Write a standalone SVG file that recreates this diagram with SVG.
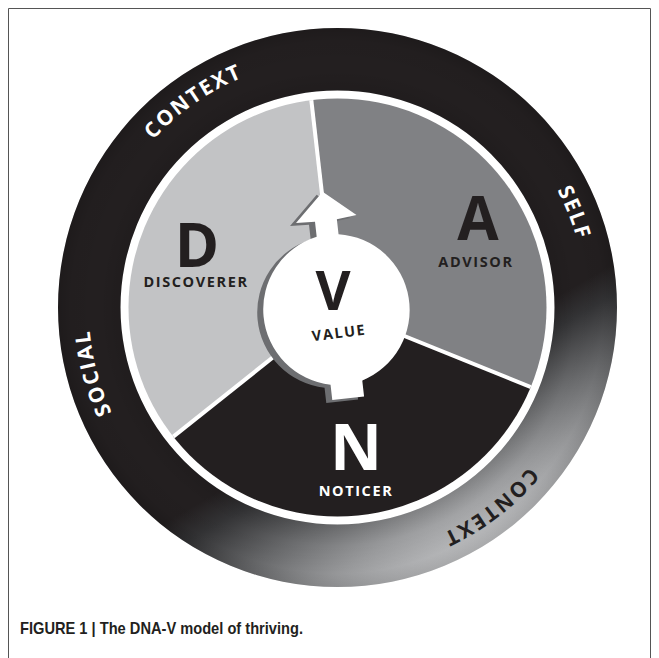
<svg xmlns="http://www.w3.org/2000/svg" width="659" height="658" viewBox="0 0 659 658">
  <defs>
    <style>
      .ringtxt { font-family: "Open Sans", "Liberation Sans", sans-serif; font-weight: 700; font-size: 21px; letter-spacing: 2px; }
      .big { font-family: "Open Sans", "Liberation Sans", sans-serif; font-weight: 700; text-anchor: middle; }
      .lbl { font-family: "Open Sans", "Liberation Sans", sans-serif; font-weight: 700; font-size: 14.5px; letter-spacing: 1.6px; text-anchor: middle; }
      .dark { fill: #231f20; }
      .white { fill: #ffffff; }
    </style>
    <linearGradient id="ringGrad" gradientUnits="userSpaceOnUse" x1="387.5" y1="394.1" x2="477.5" y2="550">
      <stop offset="0" stop-color="#231f20"/>
      <stop offset="0.15" stop-color="#333335"/>
      <stop offset="0.45" stop-color="#6a6b6d"/>
      <stop offset="0.72" stop-color="#9a9b9d"/>
      <stop offset="1" stop-color="#c6c7c9"/>
    </linearGradient>
    <radialGradient id="ringShade" gradientUnits="userSpaceOnUse" cx="337.5" cy="307.5" r="280">
      <stop offset="0.775" stop-color="#000" stop-opacity="0.08"/>
      <stop offset="0.85" stop-color="#000" stop-opacity="0"/>
      <stop offset="0.95" stop-color="#000" stop-opacity="0.03"/>
      <stop offset="1" stop-color="#000" stop-opacity="0.15"/>
    </radialGradient>
    <clipPath id="diskClip">
      <circle cx="337.5" cy="307.5" r="209"/>
    </clipPath>
    <path id="ringPath" d="M586.5,307.5 A249,249 0 1 1 88.5,307.5 A249,249 0 1 1 586.5,307.5"/>
    <path id="ringShape" d="M617,307.5 A279.5,279.5 0 1 1 58,307.5 A279.5,279.5 0 1 1 617,307.5 Z M554.5,307.5 A217,217 0 1 0 120.5,307.5 A217,217 0 1 0 554.5,307.5 Z"/>
    <path id="valueShape" d="M-11,-74 L-11,-89 L-30,-90 L0,-118 L31,-91 L11,-89 L11,-74 A76,76 0 0 1 18,74 L18,90 L-14,90 L-14,74.7 A76,76 0 0 1 -11,-74 Z"/>
  </defs>

  <rect x="0" y="0" width="659" height="658" fill="#ffffff"/>
  <path d="M8.5,658 V8.5 H650.5 V658" fill="none" stroke="#555" stroke-width="1"/>

  <g id="context-ring">
    <use href="#ringShape" fill="url(#ringGrad)" fill-rule="evenodd"/>
    <use href="#ringShape" fill="url(#ringShade)" fill-rule="evenodd"/>
    <text class="ringtxt white"><textPath href="#ringPath" startOffset="1021.3" text-anchor="middle">CONTEXT</textPath></text>
    <text class="ringtxt white"><textPath href="#ringPath" startOffset="1469.4" text-anchor="middle">SELF</textPath></text>
    <text class="ringtxt white"><textPath href="#ringPath" startOffset="717.1" text-anchor="middle">SOCIAL</textPath></text>
    <text class="ringtxt dark"><textPath href="#ringPath" startOffset="228.2" text-anchor="middle">CONTEXT</textPath></text>
  </g>

  <g clip-path="url(#diskClip)">
    <g id="segment-D">
      <path d="M335,308 L131.52,469.85 A260,260 0 0 1 305.57,49.67 Z" fill="#c2c3c5"/>
    </g>
    <g id="segment-A">
      <path d="M335,308 L305.57,49.67 A260,260 0 0 1 576.07,405.40 Z" fill="#808184"/>
    </g>
    <g id="segment-N">
      <path d="M335,308 L576.07,405.40 A260,260 0 0 1 131.52,469.85 Z" fill="#231f20"/>
    </g>
    <g id="connectors" stroke="#ffffff" stroke-width="4" fill="none">
      <line x1="335" y1="308" x2="305.57" y2="49.67"/>
      <line x1="335" y1="308" x2="576.07" y2="405.40"/>
      <line x1="335" y1="308" x2="131.52" y2="469.85"/>
    </g>
  </g>

  <g id="labels-D">
    <text class="big dark" x="197" y="267" font-size="60">D</text>
    <text class="lbl dark" x="196" y="287">DISCOVERER</text>
  </g>
  <g id="labels-A">
    <text class="big dark" x="478" y="240" font-size="60">A</text>
    <text class="lbl dark" x="476" y="267">ADVISOR</text>
  </g>
  <g id="labels-N">
    <text class="big white" x="356" y="470" font-size="64">N</text>
    <text class="lbl white" x="356" y="496">NOTICER</text>
  </g>

  <g id="value">
    <use href="#valueShape" transform="translate(330,312) rotate(-6.5)" fill="#6d6e71"/>
    <use href="#valueShape" transform="translate(336,309) rotate(-6.5)" fill="#ffffff"/>
    <text class="big dark" x="333" y="310" font-size="54">V</text>
    <text class="lbl dark" x="339" y="338" font-size="14" letter-spacing="1.8" transform="rotate(-7 339 333)">VALUE</text>
  </g>

  <g id="caption">
    <text x="20" y="634" font-family="'Liberation Sans', Arial, sans-serif" font-weight="700" font-size="17" fill="#231f20" textLength="283" lengthAdjust="spacingAndGlyphs">FIGURE 1 | The DNA-V model of thriving.</text>
  </g>
</svg>
